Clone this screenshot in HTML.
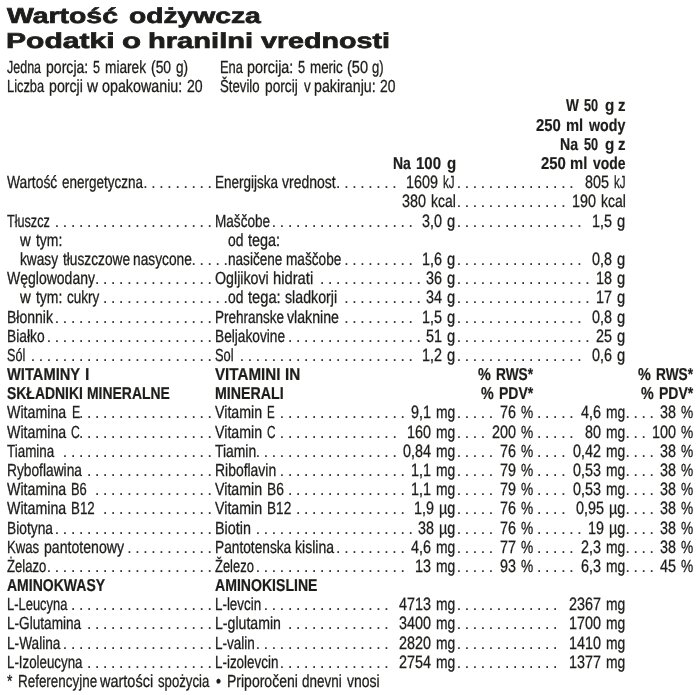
<!DOCTYPE html>
<html lang="pl">
<head>
<meta charset="utf-8">
<title>Wartość odżywcza / Podatki o hranilni vrednosti</title>
<style>
html,body{margin:0;padding:0;background:#fff;}
body{width:700px;height:695px;overflow:hidden;position:relative;color:#1d1d1b;
 font-family:"Liberation Sans",sans-serif;font-size:17.5px;line-height:20px;text-rendering:geometricPrecision;}
.r{position:absolute;left:0;width:700px;height:20px;}
.r span{position:absolute;top:0;white-space:pre;display:block;transform-origin:0 0;-webkit-text-stroke:0.3px #1d1d1b;}
.r .b{font-weight:700;font-size:17.2px;top:0px;-webkit-text-stroke-width:0.2px;}
.r .n{font-size:17.9px;top:0px;}
.r .d{letter-spacing:3.175px;-webkit-text-stroke-width:0px;color:#333;}
h1{position:absolute;margin:0;left:0;width:700px;font-size:21.5px;line-height:26px;font-weight:700;height:26px;}
h1 span{position:absolute;top:0;white-space:pre;display:block;transform-origin:0 0;-webkit-text-stroke:0.7px #1d1d1b;}
</style>
</head>
<body>
<h1 style="top:3px"><span class="b" style="left:7.40px;transform:scaleX(1.3203)">Wartość </span><span class="b" style="left:129.01px;transform:scaleX(1.3126)">odżywcza</span></h1>
<h1 style="top:28px"><span class="b" style="left:6.05px;transform:scaleX(1.3971)">Podatki </span><span class="b" style="left:121.69px;transform:scaleX(1.4500)">o </span><span class="b" style="left:148.11px;transform:scaleX(1.3532)">hranilni </span><span class="b" style="left:261.00px;transform:scaleX(1.3325)">vrednosti</span></h1>
<div class="r" style="top:57px"><span style="left:7.00px;transform:scaleX(0.7142)">Jedna </span><span style="left:46.25px;transform:scaleX(0.8050)">porcja: </span><span style="left:92.89px;transform:scaleX(0.7218)">5 </span><span style="left:104.61px;transform:scaleX(0.7822)">miarek </span><span style="left:151.17px;transform:scaleX(0.7941)">(50 </span><span style="left:175.71px;transform:scaleX(0.7764)">g) </span><span style="left:220.30px;transform:scaleX(0.7371)">Ena </span><span style="left:247.04px;transform:scaleX(0.8212)">porcija: </span><span style="left:297.99px;transform:scaleX(0.7338)">5 </span><span style="left:309.88px;transform:scaleX(0.7645)">meric </span><span style="left:346.93px;transform:scaleX(0.8323)">(50 </span><span style="left:372.43px;transform:scaleX(0.7476)">g)</span></div>
<div class="r" style="top:76px"><span style="left:7.00px;transform:scaleX(0.7344)">Liczba </span><span style="left:49.35px;transform:scaleX(0.8107)">porcji </span><span style="left:86.68px;transform:scaleX(0.8689)">w </span><span style="left:102.43px;transform:scaleX(0.8164)">opakowaniu: </span><span style="left:186.79px;transform:scaleX(0.8075)">20 </span><span style="left:220.30px;transform:scaleX(0.7547)">Število </span><span style="left:264.98px;transform:scaleX(0.7855)">porcij </span><span style="left:303.60px;transform:scaleX(0.7657)">v </span><span style="left:313.85px;transform:scaleX(0.8125)">pakiranju: </span><span style="left:380.06px;transform:scaleX(0.7935)">20</span></div>
<div class="r" style="top:95px"><span class="b" style="left:565.70px;transform:scaleX(0.7937)">W </span><span class="b" style="left:583.51px;transform:scaleX(0.7400)">50 </span><span class="b" style="left:604.79px;transform:scaleX(0.8865)">g </span><span class="b" style="left:618.00px;transform:scaleX(0.8755)">z</span></div>
<div class="r" style="top:115px"><span class="b" style="left:536.45px;transform:scaleX(0.8636)">250 </span><span class="b" style="left:565.94px;transform:scaleX(0.8545)">ml </span><span class="b" style="left:588.67px;transform:scaleX(0.8268)">wody</span></div>
<div class="r" style="top:134px"><span class="b" style="left:559.79px;transform:scaleX(0.8182)">Na </span><span class="b" style="left:583.51px;transform:scaleX(0.7400)">50 </span><span class="b" style="left:604.79px;transform:scaleX(0.8865)">g </span><span class="b" style="left:618.00px;transform:scaleX(0.8755)">z</span></div>
<div class="r" style="top:153px"><span class="b" style="left:392.99px;transform:scaleX(0.8135)">Na </span><span class="b" style="left:416.20px;transform:scaleX(0.8727)">100 </span><span class="b" style="left:446.50px;transform:scaleX(0.8750)">g </span><span class="b" style="left:540.65px;transform:scaleX(0.8672)">250 </span><span class="b" style="left:570.14px;transform:scaleX(0.8602)">ml </span><span class="b" style="left:592.90px;transform:scaleX(0.8104)">vode</span></div>
<div class="r" style="top:172px"><span style="left:7.00px;transform:scaleX(0.7910)">Wartość </span><span style="left:61.81px;transform:scaleX(0.7708)">energetyczna</span><span class="d" style="left:142.99px">.........</span><span style="left:215.20px;transform:scaleX(0.7710)">Energijska </span><span style="left:281.80px;transform:scaleX(0.8006)">vrednost</span><span class="d" style="left:335.87px">........</span><span class="n" style="left:406.40px;transform:scaleX(0.8036)">1609 </span><span style="left:443.35px;transform:scaleX(0.6606)">kJ</span><span class="d" style="left:456.43px">...............</span><span class="n" style="left:584.60px;transform:scaleX(0.8036)">805 </span><span style="left:613.55px;transform:scaleX(0.6606)">kJ</span></div>
<div class="r" style="top:191px"><span class="n" style="left:401.80px;transform:scaleX(0.8036)">380 </span><span style="left:430.59px;transform:scaleX(0.7960)">kcal</span><span class="d" style="left:456.43px">..............</span><span class="n" style="left:571.90px;transform:scaleX(0.8036)">190 </span><span style="left:600.69px;transform:scaleX(0.7960)">kcal</span></div>
<div class="r" style="top:211px"><span style="left:7.00px;transform:scaleX(0.7219)">Tłuszcz</span><span class="d" style="left:54.58px">....................</span><span style="left:215.20px;transform:scaleX(0.7761)">Maščobe</span><span class="d" style="left:271.58px">..................</span><span class="n" style="left:421.70px;transform:scaleX(0.8036)">3,0 </span><span style="left:446.81px;transform:scaleX(0.8414)">g</span><span class="d" style="left:456.43px">................</span><span class="n" style="left:591.90px;transform:scaleX(0.8036)">1,5 </span><span style="left:617.01px;transform:scaleX(0.8414)">g</span></div>
<div class="r" style="top:230px"><span style="left:20.20px;transform:scaleX(0.8512)">w </span><span style="left:36.09px;transform:scaleX(0.7967)">tym: </span><span style="left:228.40px;transform:scaleX(0.7937)">od </span><span style="left:248.38px;transform:scaleX(0.8256)">tega:</span></div>
<div class="r" style="top:249px"><span style="left:20.20px;transform:scaleX(0.7826)">kwasy </span><span style="left:63.29px;transform:scaleX(0.7831)">tłuszczowe </span><span style="left:133.11px;transform:scaleX(0.7850)">nasycone</span><span class="d" style="left:191.21px">.....</span><span style="left:228.40px;transform:scaleX(0.7767)">nasičene </span><span style="left:286.21px;transform:scaleX(0.7795)">maščobe</span><span class="d" style="left:343.91px">.........</span><span class="n" style="left:421.70px;transform:scaleX(0.8036)">1,6 </span><span style="left:446.81px;transform:scaleX(0.8414)">g</span><span class="d" style="left:456.43px">................</span><span class="n" style="left:591.90px;transform:scaleX(0.8036)">0,8 </span><span style="left:617.01px;transform:scaleX(0.8414)">g</span></div>
<div class="r" style="top:268px"><span style="left:7.00px;transform:scaleX(0.8006)">Węglowodany</span><span class="d" style="left:94.76px">...............</span><span style="left:215.20px;transform:scaleX(0.8129)">Ogljikovi </span><span style="left:273.04px;transform:scaleX(0.8434)">hidrati</span><span class="d" style="left:319.80px">.............</span><span class="n" style="left:425.70px;transform:scaleX(0.8036)">36 </span><span style="left:446.81px;transform:scaleX(0.8414)">g</span><span class="d" style="left:456.43px">.................</span><span class="n" style="left:595.90px;transform:scaleX(0.8036)">18 </span><span style="left:617.01px;transform:scaleX(0.8414)">g</span></div>
<div class="r" style="top:287px"><span style="left:20.20px;transform:scaleX(0.8512)">w </span><span style="left:36.09px;transform:scaleX(0.7967)">tym: </span><span style="left:66.96px;transform:scaleX(0.7723)">cukry</span><span class="d" style="left:102.80px">................</span><span style="left:228.40px;transform:scaleX(0.7937)">od </span><span style="left:248.38px;transform:scaleX(0.8391)">tega: </span><span style="left:284.90px;transform:scaleX(0.8110)">sladkorji</span><span class="d" style="left:343.91px">..........</span><span class="n" style="left:425.70px;transform:scaleX(0.8036)">34 </span><span style="left:446.81px;transform:scaleX(0.8414)">g</span><span class="d" style="left:456.43px">.................</span><span class="n" style="left:595.90px;transform:scaleX(0.8036)">17 </span><span style="left:617.01px;transform:scaleX(0.8414)">g</span></div>
<div class="r" style="top:307px"><span style="left:7.00px;transform:scaleX(0.8002)">Błonnik</span><span class="d" style="left:54.58px">....................</span><span style="left:215.20px;transform:scaleX(0.7722)">Prehranske </span><span style="left:287.10px;transform:scaleX(0.8096)">vlaknine</span><span class="d" style="left:343.91px">.........</span><span class="n" style="left:421.70px;transform:scaleX(0.8036)">1,5 </span><span style="left:446.81px;transform:scaleX(0.8414)">g</span><span class="d" style="left:456.43px">................</span><span class="n" style="left:591.90px;transform:scaleX(0.8036)">0,8 </span><span style="left:617.01px;transform:scaleX(0.8414)">g</span></div>
<div class="r" style="top:326px"><span style="left:7.00px;transform:scaleX(0.7882)">Białko</span><span class="d" style="left:46.54px">.....................</span><span style="left:215.20px;transform:scaleX(0.7834)">Beljakovine</span><span class="d" style="left:287.65px">.................</span><span class="n" style="left:425.70px;transform:scaleX(0.8036)">51 </span><span style="left:446.81px;transform:scaleX(0.8414)">g</span><span class="d" style="left:456.43px">.................</span><span class="n" style="left:595.90px;transform:scaleX(0.8036)">25 </span><span style="left:617.01px;transform:scaleX(0.8414)">g</span></div>
<div class="r" style="top:345px"><span style="left:7.00px;transform:scaleX(0.7230)">Sól</span><span class="d" style="left:30.47px">.......................</span><span style="left:215.20px;transform:scaleX(0.7354)">Sol</span><span class="d" style="left:239.43px">......................</span><span class="n" style="left:421.70px;transform:scaleX(0.8036)">1,2 </span><span style="left:446.81px;transform:scaleX(0.8414)">g</span><span class="d" style="left:456.43px">................</span><span class="n" style="left:591.90px;transform:scaleX(0.8036)">0,6 </span><span style="left:617.01px;transform:scaleX(0.8414)">g</span></div>
<div class="r" style="top:364px"><span class="b" style="left:7.00px;transform:scaleX(0.8542)">WITAMINY </span><span class="b" style="left:84.66px;transform:scaleX(0.9200)">I </span><span class="b" style="left:215.20px;transform:scaleX(0.8827)">VITAMINI </span><span class="b" style="left:285.01px;transform:scaleX(0.8877)">IN </span><span class="b" style="left:477.81px;transform:scaleX(0.8394)">% </span><span class="b" style="left:495.81px;transform:scaleX(0.7972)">RWS* </span><span class="b" style="left:637.91px;transform:scaleX(0.8394)">% </span><span class="b" style="left:655.91px;transform:scaleX(0.7972)">RWS*</span></div>
<div class="r" style="top:383px"><span class="b" style="left:7.00px;transform:scaleX(0.8113)">SKŁADNIKI </span><span class="b" style="left:86.59px;transform:scaleX(0.8110)">MINERALNE </span><span class="b" style="left:215.20px;transform:scaleX(0.8264)">MINERALI </span><span class="b" style="left:480.51px;transform:scaleX(0.8325)">% </span><span class="b" style="left:498.59px;transform:scaleX(0.8155)">PDV* </span><span class="b" style="left:640.61px;transform:scaleX(0.8325)">% </span><span class="b" style="left:658.69px;transform:scaleX(0.8155)">PDV*</span></div>
<div class="r" style="top:402px"><span style="left:7.00px;transform:scaleX(0.8117)">Witamina </span><span style="left:71.51px;transform:scaleX(0.7077)">E</span><span class="d" style="left:78.69px">.................</span><span style="left:215.20px;transform:scaleX(0.8128)">Vitamin </span><span style="left:266.98px;transform:scaleX(0.6600)">E</span><span class="d" style="left:279.62px">................</span><span class="n" style="left:410.90px;transform:scaleX(0.8036)">9,1 </span><span style="left:435.70px;transform:scaleX(0.7918)">mg</span><span class="d" style="left:456.43px">.....</span><span class="n" style="left:499.55px;transform:scaleX(0.8036)">76 </span><span style="left:520.77px;transform:scaleX(0.7840)">%</span><span class="d" style="left:536.80px">.....</span><span class="n" style="left:581.10px;transform:scaleX(0.8036)">4,6 </span><span style="left:605.90px;transform:scaleX(0.7918)">mg</span><span class="d" style="left:625.21px">....</span><span class="n" style="left:659.65px;transform:scaleX(0.8036)">38 </span><span style="left:680.87px;transform:scaleX(0.7840)">%</span></div>
<div class="r" style="top:422px"><span style="left:7.00px;transform:scaleX(0.8117)">Witamina </span><span style="left:71.14px;transform:scaleX(0.6974)">C</span><span class="d" style="left:78.69px">.................</span><span style="left:215.20px;transform:scaleX(0.8128)">Vitamin </span><span style="left:266.66px;transform:scaleX(0.6749)">C</span><span class="d" style="left:279.62px">...............</span><span class="n" style="left:406.90px;transform:scaleX(0.8036)">160 </span><span style="left:435.70px;transform:scaleX(0.7918)">mg</span><span class="d" style="left:456.43px">....</span><span class="n" style="left:491.55px;transform:scaleX(0.8036)">200 </span><span style="left:520.77px;transform:scaleX(0.7840)">%</span><span class="d" style="left:536.80px">.....</span><span class="n" style="left:585.10px;transform:scaleX(0.8036)">80 </span><span style="left:605.90px;transform:scaleX(0.7918)">mg</span><span class="d" style="left:625.21px">...</span><span class="n" style="left:651.65px;transform:scaleX(0.8036)">100 </span><span style="left:680.87px;transform:scaleX(0.7840)">%</span></div>
<div class="r" style="top:441px"><span style="left:7.00px;transform:scaleX(0.7663)">Tiamina</span><span class="d" style="left:62.62px">...................</span><span style="left:215.20px;transform:scaleX(0.7935)">Tiamin</span><span class="d" style="left:255.50px">..................</span><span class="n" style="left:402.90px;transform:scaleX(0.8036)">0,84 </span><span style="left:435.70px;transform:scaleX(0.7918)">mg</span><span class="d" style="left:456.43px">.....</span><span class="n" style="left:499.55px;transform:scaleX(0.8036)">76 </span><span style="left:520.77px;transform:scaleX(0.7840)">%</span><span class="d" style="left:536.80px">....</span><span class="n" style="left:573.10px;transform:scaleX(0.8036)">0,42 </span><span style="left:605.90px;transform:scaleX(0.7918)">mg</span><span class="d" style="left:625.21px">....</span><span class="n" style="left:659.65px;transform:scaleX(0.8036)">38 </span><span style="left:680.87px;transform:scaleX(0.7840)">%</span></div>
<div class="r" style="top:460px"><span style="left:7.00px;transform:scaleX(0.7862)">Ryboflawina</span><span class="d" style="left:86.73px">................</span><span style="left:215.20px;transform:scaleX(0.7958)">Riboflavin</span><span class="d" style="left:279.62px">................</span><span class="n" style="left:410.90px;transform:scaleX(0.8036)">1,1 </span><span style="left:435.70px;transform:scaleX(0.7918)">mg</span><span class="d" style="left:456.43px">.....</span><span class="n" style="left:499.55px;transform:scaleX(0.8036)">79 </span><span style="left:520.77px;transform:scaleX(0.7840)">%</span><span class="d" style="left:536.80px">....</span><span class="n" style="left:573.10px;transform:scaleX(0.8036)">0,53 </span><span style="left:605.90px;transform:scaleX(0.7918)">mg</span><span class="d" style="left:625.21px">....</span><span class="n" style="left:659.65px;transform:scaleX(0.8036)">38 </span><span style="left:680.87px;transform:scaleX(0.7840)">%</span></div>
<div class="r" style="top:479px"><span style="left:7.00px;transform:scaleX(0.8117)">Witamina </span><span style="left:71.47px;transform:scaleX(0.7389)">B6</span><span class="d" style="left:94.76px">...............</span><span style="left:215.20px;transform:scaleX(0.8128)">Vitamin </span><span style="left:266.64px;transform:scaleX(0.7908)">B6</span><span class="d" style="left:287.65px">...............</span><span class="n" style="left:410.90px;transform:scaleX(0.8036)">1,1 </span><span style="left:435.70px;transform:scaleX(0.7918)">mg</span><span class="d" style="left:456.43px">.....</span><span class="n" style="left:499.55px;transform:scaleX(0.8036)">79 </span><span style="left:520.77px;transform:scaleX(0.7840)">%</span><span class="d" style="left:536.80px">....</span><span class="n" style="left:573.10px;transform:scaleX(0.8036)">0,53 </span><span style="left:605.90px;transform:scaleX(0.7918)">mg</span><span class="d" style="left:625.21px">....</span><span class="n" style="left:659.65px;transform:scaleX(0.8036)">38 </span><span style="left:680.87px;transform:scaleX(0.7840)">%</span></div>
<div class="r" style="top:498px"><span style="left:7.00px;transform:scaleX(0.8117)">Witamina </span><span style="left:71.44px;transform:scaleX(0.7605)">B12</span><span class="d" style="left:102.80px">..............</span><span style="left:215.20px;transform:scaleX(0.8128)">Vitamin </span><span style="left:266.66px;transform:scaleX(0.7777)">B12</span><span class="d" style="left:295.69px">..............</span><span class="n" style="left:413.90px;transform:scaleX(0.8036)">1,9 </span><span style="left:438.66px;transform:scaleX(0.8235)">µg</span><span class="d" style="left:456.43px">.....</span><span class="n" style="left:499.55px;transform:scaleX(0.8036)">76 </span><span style="left:520.77px;transform:scaleX(0.7840)">%</span><span class="d" style="left:536.80px">....</span><span class="n" style="left:576.10px;transform:scaleX(0.8036)">0,95 </span><span style="left:608.86px;transform:scaleX(0.8235)">µg</span><span class="d" style="left:625.21px">....</span><span class="n" style="left:659.65px;transform:scaleX(0.8036)">38 </span><span style="left:680.87px;transform:scaleX(0.7840)">%</span></div>
<div class="r" style="top:518px"><span style="left:7.00px;transform:scaleX(0.7872)">Biotyna</span><span class="d" style="left:54.58px">....................</span><span style="left:215.20px;transform:scaleX(0.8207)">Biotin</span><span class="d" style="left:255.50px">....................</span><span class="n" style="left:417.90px;transform:scaleX(0.8036)">38 </span><span style="left:438.66px;transform:scaleX(0.8235)">µg</span><span class="d" style="left:456.43px">.....</span><span class="n" style="left:499.55px;transform:scaleX(0.8036)">76 </span><span style="left:520.77px;transform:scaleX(0.7840)">%</span><span class="d" style="left:536.80px">......</span><span class="n" style="left:588.10px;transform:scaleX(0.8036)">19 </span><span style="left:608.86px;transform:scaleX(0.8235)">µg</span><span class="d" style="left:625.21px">....</span><span class="n" style="left:659.65px;transform:scaleX(0.8036)">38 </span><span style="left:680.87px;transform:scaleX(0.7840)">%</span></div>
<div class="r" style="top:537px"><span style="left:7.00px;transform:scaleX(0.7527)">Kwas </span><span style="left:44.15px;transform:scaleX(0.8071)">pantotenowy</span><span class="d" style="left:126.91px">...........</span><span style="left:215.20px;transform:scaleX(0.7837)">Pantotenska </span><span style="left:294.89px;transform:scaleX(0.8032)">kislina</span><span class="d" style="left:335.87px">.........</span><span class="n" style="left:410.90px;transform:scaleX(0.8036)">4,6 </span><span style="left:435.70px;transform:scaleX(0.7918)">mg</span><span class="d" style="left:456.43px">.....</span><span class="n" style="left:499.55px;transform:scaleX(0.8036)">77 </span><span style="left:520.77px;transform:scaleX(0.7840)">%</span><span class="d" style="left:536.80px">.....</span><span class="n" style="left:581.10px;transform:scaleX(0.8036)">2,3 </span><span style="left:605.90px;transform:scaleX(0.7918)">mg</span><span class="d" style="left:625.21px">....</span><span class="n" style="left:659.65px;transform:scaleX(0.8036)">38 </span><span style="left:680.87px;transform:scaleX(0.7840)">%</span></div>
<div class="r" style="top:556px"><span style="left:7.00px;transform:scaleX(0.7480)">Żelazo</span><span class="d" style="left:46.54px">.....................</span><span style="left:215.20px;transform:scaleX(0.7393)">Železo</span><span class="d" style="left:255.50px">...................</span><span class="n" style="left:414.90px;transform:scaleX(0.8036)">13 </span><span style="left:435.70px;transform:scaleX(0.7918)">mg</span><span class="d" style="left:456.43px">.....</span><span class="n" style="left:499.55px;transform:scaleX(0.8036)">93 </span><span style="left:520.77px;transform:scaleX(0.7840)">%</span><span class="d" style="left:536.80px">.....</span><span class="n" style="left:581.10px;transform:scaleX(0.8036)">6,3 </span><span style="left:605.90px;transform:scaleX(0.7918)">mg</span><span class="d" style="left:625.21px">....</span><span class="n" style="left:659.65px;transform:scaleX(0.8036)">45 </span><span style="left:680.87px;transform:scaleX(0.7840)">%</span></div>
<div class="r" style="top:575px"><span class="b" style="left:7.00px;transform:scaleX(0.8154)">AMINOKWASY </span><span class="b" style="left:215.20px;transform:scaleX(0.8194)">AMINOKISLINE</span></div>
<div class="r" style="top:594px"><span style="left:7.00px;transform:scaleX(0.7397)">L-Leucyna</span><span class="d" style="left:70.65px">..................</span><span style="left:215.20px;transform:scaleX(0.7648)">L-levcin</span><span class="d" style="left:263.54px">................</span><span class="n" style="left:398.90px;transform:scaleX(0.8036)">4713 </span><span style="left:435.70px;transform:scaleX(0.7918)">mg</span><span class="d" style="left:456.43px">.............</span><span class="n" style="left:569.10px;transform:scaleX(0.8036)">2367 </span><span style="left:605.90px;transform:scaleX(0.7918)">mg</span></div>
<div class="r" style="top:613px"><span style="left:7.00px;transform:scaleX(0.7784)">L-Glutamina</span><span class="d" style="left:86.73px">................</span><span style="left:215.20px;transform:scaleX(0.8067)">L-glutamin</span><span class="d" style="left:287.65px">.............</span><span class="n" style="left:398.90px;transform:scaleX(0.8036)">3400 </span><span style="left:435.70px;transform:scaleX(0.7918)">mg</span><span class="d" style="left:456.43px">.............</span><span class="n" style="left:569.10px;transform:scaleX(0.8036)">1700 </span><span style="left:605.90px;transform:scaleX(0.7918)">mg</span></div>
<div class="r" style="top:633px"><span style="left:7.00px;transform:scaleX(0.7814)">L-Walina</span><span class="d" style="left:62.62px">...................</span><span style="left:215.20px;transform:scaleX(0.7736)">L-valin</span><span class="d" style="left:255.50px">.................</span><span class="n" style="left:398.90px;transform:scaleX(0.8036)">2820 </span><span style="left:435.70px;transform:scaleX(0.7918)">mg</span><span class="d" style="left:456.43px">.............</span><span class="n" style="left:569.10px;transform:scaleX(0.8036)">1410 </span><span style="left:605.90px;transform:scaleX(0.7918)">mg</span></div>
<div class="r" style="top:652px"><span style="left:7.00px;transform:scaleX(0.7604)">L-Izoleucyna</span><span class="d" style="left:86.73px">................</span><span style="left:215.20px;transform:scaleX(0.7665)">L-izolevcin</span><span class="d" style="left:279.62px">..............</span><span class="n" style="left:398.90px;transform:scaleX(0.8036)">2754 </span><span style="left:435.70px;transform:scaleX(0.7918)">mg</span><span class="d" style="left:456.43px">.............</span><span class="n" style="left:569.10px;transform:scaleX(0.8036)">1377 </span><span style="left:605.90px;transform:scaleX(0.7918)">mg</span></div>
<div class="r" style="top:671px"><span style="left:7.29px;transform:scaleX(0.7937)">* </span><span style="left:17.68px;transform:scaleX(0.7674)">Referencyjne </span><span style="left:100.37px;transform:scaleX(0.8274)">wartości </span><span style="left:157.67px;transform:scaleX(0.7531)">spożycia </span><span style="left:216.10px;transform:scaleX(0.8163)">• </span><span style="left:226.63px;transform:scaleX(0.8000)">Priporočeni </span><span style="left:301.71px;transform:scaleX(0.7697)">dnevni </span><span style="left:347.25px;transform:scaleX(0.8002)">vnosi</span></div>
</body>
</html>
